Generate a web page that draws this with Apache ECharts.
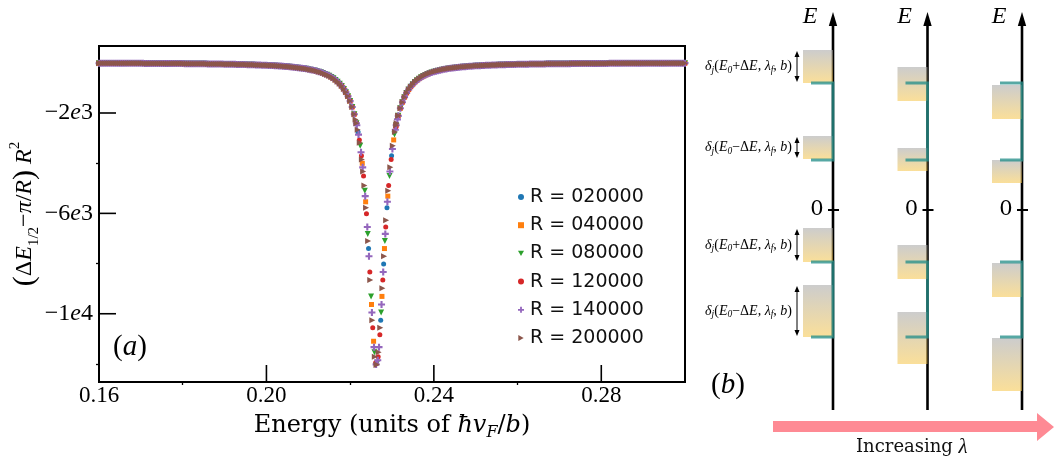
<!DOCTYPE html>
<html><head><meta charset="utf-8">
<script src="https://cdn.jsdelivr.net/npm/echarts@6/dist/echarts.min.js"></script>
<style>html,body{margin:0;padding:0;background:#fff}#c{width:1055px;height:465px}</style>
</head><body><div id="c"></div>
<script>
// ---------------- Panel (a) data ----------------
const seriesNames = ['R = 020000','R = 040000','R = 080000','R = 120000','R = 140000','R = 200000'];
const xTicks = [0.16, 0.20, 0.24, 0.28];
const xMinorTicks = [0.18, 0.22, 0.26];
const yTicks = [-2000, -6000, -10000];
const yTickLabels = ['−2e3', '−6e3', '−1e4'];
const yMinorTicks = [0, -4000, -8000, -12000];

// common wings of the collapsed curve (all R overlap here)
const wingEnergyLeft = [0.160,0.161,0.162,0.163,0.164,0.165,0.166,0.167,0.168,0.169,0.170,0.171,0.172,0.173,0.174,0.175,0.176,0.177,0.178,0.179,0.180,0.181,0.182,0.183,0.184,0.185,0.186,0.187,0.188,0.189,0.190,0.191,0.192,0.193,0.194,0.195,0.196,0.197,0.198,0.199,0.200,0.201,0.202,0.203,0.204,0.205,0.206,0.207,0.208,0.209,0.210,0.211,0.212,0.213,0.214,0.215,0.2155,0.2160,0.2165,0.2170,0.2175,0.2180,0.2185,0.2190,0.2195,0.2200,0.2205,0.2210,0.2215];
const wingValueLeft = [-16,-16,-17,-17,-18,-19,-19,-20,-20,-21,-22,-23,-24,-24,-25,-26,-27,-29,-30,-31,-32,-34,-35,-37,-39,-41,-43,-45,-47,-50,-53,-56,-59,-63,-67,-71,-76,-81,-87,-93,-100,-107,-116,-126,-138,-151,-166,-183,-204,-227,-256,-289,-330,-380,-442,-520,-567,-620,-681,-752,-834,-929,-1041,-1175,-1333,-1526,-1760,-2048,-2408];
const wingEnergyLeftB = [0.1605,0.1615,0.1625,0.1635,0.1645,0.1655,0.1665,0.1675,0.1685,0.1695,0.1705,0.1715,0.1725,0.1735,0.1745,0.1755,0.1765,0.1775,0.1785,0.1795,0.1805,0.1815,0.1825,0.1835,0.1845,0.1855,0.1865,0.1875,0.1885,0.1895,0.1905,0.1915,0.1925,0.1935,0.1945,0.1955,0.1965,0.1975,0.1985,0.1995,0.2005,0.2015,0.2025,0.2035,0.2045,0.2055,0.2065,0.2075,0.2085,0.2095,0.2105,0.2115,0.2125,0.2135,0.2145];
const wingValueLeftB = [-16,-17,-17,-18,-18,-19,-19,-20,-21,-22,-22,-23,-24,-25,-26,-27,-28,-29,-30,-32,-33,-35,-36,-38,-40,-42,-44,-46,-49,-51,-54,-57,-61,-65,-69,-73,-78,-84,-89,-96,-103,-112,-121,-132,-144,-158,-174,-193,-215,-241,-272,-309,-354,-409,-478];
const wingEnergyRight = [0.2310,0.2315,0.2320,0.2325,0.2330,0.2335,0.2340,0.2345,0.2350,0.2355,0.2360,0.237,0.238,0.239,0.240,0.241,0.242,0.243,0.244,0.245,0.246,0.247,0.248,0.249,0.250,0.251,0.252,0.253,0.254,0.255,0.256,0.257,0.258,0.259,0.260,0.261,0.262,0.263,0.264,0.265,0.266,0.267,0.268,0.269,0.270,0.271,0.272,0.273,0.274,0.275,0.276,0.277,0.278,0.279,0.280,0.281,0.282,0.283,0.284,0.285,0.286,0.287,0.288,0.289,0.290,0.291,0.292,0.293,0.294,0.295,0.296,0.297,0.298,0.299,0.300];
const wingValueRight = [-2490,-2114,-1813,-1569,-1369,-1204,-1066,-950,-851,-767,-694,-577,-486,-415,-358,-313,-275,-244,-217,-195,-176,-160,-145,-133,-122,-114,-105,-97,-90,-84,-79,-74,-69,-65,-61,-58,-54,-52,-49,-46,-44,-42,-40,-38,-36,-35,-33,-32,-31,-29,-28,-27,-26,-25,-24,-23,-22,-22,-21,-20,-20,-19,-18,-18,-17,-17,-16,-16,-15,-15,-14,-14,-14,-13,-13];
const wingEnergyRightB = [0.2365,0.2375,0.2385,0.2395,0.2405,0.2415,0.2425,0.2435,0.2445,0.2455,0.2465,0.2475,0.2485,0.2495,0.2505,0.2515,0.2525,0.2535,0.2545,0.2555,0.2565,0.2575,0.2585,0.2595,0.2605,0.2615,0.2625,0.2635,0.2645,0.2655,0.2665,0.2675,0.2685,0.2695,0.2705,0.2715,0.2725,0.2735,0.2745,0.2755,0.2765,0.2775,0.2785,0.2795,0.2805,0.2815,0.2825,0.2835,0.2845,0.2855,0.2865,0.2875,0.2885,0.2895,0.2905,0.2915,0.2925,0.2935,0.2945,0.2955,0.2965,0.2975,0.2985,0.2995];
const wingValueRightB = [-632,-529,-449,-385,-334,-293,-259,-230,-206,-185,-168,-152,-139,-128,-117,-109,-101,-94,-87,-81,-76,-71,-67,-63,-59,-56,-53,-50,-48,-45,-43,-41,-39,-37,-36,-34,-33,-31,-30,-29,-28,-27,-25,-25,-24,-23,-22,-21,-21,-20,-19,-19,-18,-17,-17,-16,-16,-15,-15,-15,-14,-14,-13,-13];

// points inside the dip, per radius  [energy, value]
const dipR020000 = [[0.2219,-2761],[0.2244,-7402],[0.2273,-10259],[0.2280,-8017],[0.2288,-5775],[0.2299,-3705]];
const dipR040000 = [[0.2229,-4005],[0.2237,-5539],[0.2251,-9632],[0.2256,-11096],[0.2276,-9309],[0.2282,-7402],[0.2290,-5314],[0.2304,-3073]];
const dipR080000 = [[0.2224,-3307],[0.2235,-5099],[0.2242,-6819],[0.2250,-9309],[0.2258,-11539],[0.2265,-11957],[0.2274,-9950],[0.2283,-7105],[0.2294,-4512],[0.2306,-2860]];
const dipR120000 = [[0.2222,-3073],[0.2227,-3705],[0.2232,-4512],[0.2239,-6020],[0.2247,-8335],[0.2254,-10556],[0.2261,-11957],[0.2267,-11715],[0.2271,-10836],[0.2278,-8657],[0.2285,-6542],[0.2292,-4894],[0.2298,-3851],[0.2309,-2576]];
const dipR140000 = [[0.2216,-2490],[0.2220,-2860],[0.2226,-3566],[0.2230,-4165],[0.2236,-5314],[0.2241,-6542],[0.2245,-7706],[0.2252,-9950],[0.2257,-11332],[0.2262,-12019],[0.2266,-11855],[0.2269,-11332],[0.2275,-9632],[0.2279,-8335],[0.2284,-6819],[0.2289,-5539],[0.2295,-4334],[0.2301,-3433],[0.2308,-2666],[0.2313,-2255]];
const dipR200000 = [[0.2213,-2255],[0.2218,-2666],[0.2223,-3187],[0.2228,-3851],[0.2231,-4334],[0.2234,-4894],[0.2238,-5775],[0.2243,-7105],[0.2248,-8657],[0.2253,-10259],[0.2259,-11715],[0.2263,-12040],[0.2264,-12019],[0.2268,-11539],[0.2272,-10556],[0.2277,-8983],[0.2281,-7706],[0.2286,-6276],[0.2291,-5099],[0.2296,-4165],[0.2302,-3307],[0.2307,-2761],[0.2311,-2408],[0.2315,-2114]];

// ---------------- Panel (b) data (schematic energy units) ----------------
const columns = [1, 2, 3];                   // increasing lambda
const levels = [127, 50, -52, -127];          // E0+dE, E0-dE for two resonances
const boxBottom = [[127, 51, -52, -127], [109, 39, -69, -154], [91, 27, -87, -181]];
const boxTop    = [[160, 74, -18, -75],  [143, 62, -35, -102], [125, 50, -53, -128]];
const deltaSigns = ['+', '−', '+', '−'];

// ---------------- build ----------------
const X_MIN = 0.16, X_MAX = 0.30, Y_MIN = -12720, Y_MAX = 670;
const colors = ['#1f77b4','#ff7f0e','#2ca02c','#d62728','#9467bd','#8c564b'];
const symbols = ['circle','rect','path://M0,0L10,0L5,9Z','circle',
  'path://M3.5,0H6.5V3.5H10V6.5H6.5V10H3.5V6.5H0V3.5H3.5Z','path://M0,0L9,5L0,10Z'];
const sizes = [5, 5, 6, 5, 7, 6];
const dips = [dipR020000, dipR040000, dipR080000, dipR120000, dipR140000, dipR200000];
const pairs = (es, vs) => es.map((e, i) => [e, vs[i]]);
const wing = pairs(wingEnergyLeft, wingValueLeft).concat(pairs(wingEnergyLeftB, wingValueLeftB),
  pairs(wingEnergyRight, wingValueRight), pairs(wingEnergyRightB, wingValueRightB));

const serif = 'Liberation Serif';
const scatterSeries = seriesNames.map((n, i) => ({
  type: 'scatter', name: n, xAxisIndex: 0, yAxisIndex: 0,
  data: wing.concat(dips[i]), symbol: symbols[i], symbolSize: sizes[i],
  itemStyle: { color: colors[i], opacity: 1 }, clip: true, z: 2 + i,
  emphasis: { disabled: true }, animation: false
}));

// inward major ticks of panel (a)
const xTickSeries = {
  type: 'custom', xAxisIndex: 0, yAxisIndex: 0, clip: false, silent: true, z: 30,
  data: xTicks.map(v => [v, Y_MIN]),
  renderItem(params, api) {
    const p = api.coord([api.value(0), api.value(1)]);
    return { type: 'line', shape: { x1: p[0], y1: p[1], x2: p[0], y2: p[1] - 17 }, style: { stroke: '#000', lineWidth: 1.6 } };
  }
};
const yTickSeries = {
  type: 'custom', xAxisIndex: 0, yAxisIndex: 0, clip: false, silent: true, z: 30,
  data: yTicks.map(v => [X_MIN, v]),
  renderItem(params, api) {
    const p = api.coord([api.value(0), api.value(1)]);
    return { type: 'line', shape: { x1: p[0], y1: p[1], x2: p[0] + 17, y2: p[1] }, style: { stroke: '#000', lineWidth: 1.6 } };
  }
};

const teal = '#26908b';
const axesSeries = {
  type: 'custom', xAxisIndex: 2, yAxisIndex: 2, clip: false, silent: true, z: 1,
  data: columns.map(c => [c]),
  renderItem(params, api) {
    const cs = params.coordSys;
    const x = api.coord([api.value(0), 0])[0];
    const y0 = api.coord([api.value(0), 0])[1];
    const top = cs.y, bot = cs.y + cs.height;
    return { type: 'group', children: [
      { type: 'line', shape: { x1: x, y1: bot, x2: x, y2: top + 10 }, style: { stroke: '#000', lineWidth: 2.6 } },
      { type: 'polygon', shape: { points: [[x - 4.2, top + 14], [x + 4.2, top + 14], [x, top]] }, style: { fill: '#000' } },
      { type: 'line', shape: { x1: x - 5, y1: y0, x2: x + 6, y2: y0 }, style: { stroke: '#000', lineWidth: 2 } },
      { type: 'text', x: x - 23, y: top + 5, style: { text: 'E', font: 'italic 24px "Liberation Serif"', fill: '#000', align: 'center', verticalAlign: 'middle' } },
      { type: 'text', x: x - 16, y: y0, style: { text: '0', font: '21px "DejaVu Serif"', fill: '#000', align: 'center', verticalAlign: 'middle' } }
    ]};
  }
};

const tealData = [];
columns.forEach(c => { tealData.push([c, levels[0], levels[1]]); tealData.push([c, levels[2], levels[3]]); });
const tealSeries = {
  type: 'custom', xAxisIndex: 2, yAxisIndex: 2, clip: false, silent: true, z: 4,
  data: tealData,
  renderItem(params, api) {
    const p1 = api.coord([api.value(0), api.value(1)]);
    const p2 = api.coord([api.value(0), api.value(2)]);
    return { type: 'polyline', shape: { points: [[p1[0] - 22, p1[1]], [p1[0], p1[1]], [p2[0], p2[1]], [p2[0] - 22, p2[1]]] },
      style: { stroke: teal, lineWidth: 2.8, fill: null, opacity: 0.78 } };
  }
};

const boxData = [];
columns.forEach((c, ci) => boxBottom[ci].forEach((b, k) => boxData.push([c, b, boxTop[ci][k]])));
const boxSeries = {
  type: 'custom', xAxisIndex: 2, yAxisIndex: 2, clip: false, silent: true, z: 3,
  data: boxData,
  renderItem(params, api) {
    const pb = api.coord([api.value(0), api.value(1)]);
    const pt = api.coord([api.value(0), api.value(2)]);
    return { type: 'rect', shape: { x: pb[0] - 30, y: pt[1], width: 30, height: pb[1] - pt[1] },
      style: { fill: new echarts.graphic.LinearGradient(0, 0, 0, 1, [
        { offset: 0, color: 'rgba(168,168,168,0.58)' }, { offset: 1, color: 'rgba(247,200,80,0.58)' }]) } };
  }
};

const arrowData = boxBottom[0].map((b, k) => [columns[0], b, boxTop[0][k], k]);
const arrowSeries = {
  type: 'custom', xAxisIndex: 2, yAxisIndex: 2, clip: false, silent: true, z: 5,
  data: arrowData,
  renderItem(params, api) {
    const pb = api.coord([api.value(0), api.value(1)]);
    const pt = api.coord([api.value(0), api.value(2)]);
    const x = pb[0] - 36, yb = pb[1] - 1, yt = pt[1] + 1, ym = (yb + yt) / 2;
    const sign = deltaSigns[api.value(3)];
    return { type: 'group', children: [
      { type: 'line', shape: { x1: x, y1: yt + 3, x2: x, y2: yb - 3 }, style: { stroke: '#000', lineWidth: 1 } },
      { type: 'polygon', shape: { points: [[x - 2.5, yt + 6], [x + 2.5, yt + 6], [x, yt]] }, style: { fill: '#000' } },
      { type: 'polygon', shape: { points: [[x - 2.5, yb - 6], [x + 2.5, yb - 6], [x, yb]] }, style: { fill: '#000' } },
      { type: 'text', x: x - 5, y: ym, style: {
        text: '{i|δ}{s|j}{n|(}{i|E}{s|0}{n|' + sign + 'Δ}{i|E}{n|, }{i|λ}{s|f}{n|, }{i|b}{n|)}',
        align: 'right', verticalAlign: 'middle',
        rich: {
          i: { fontFamily: serif, fontStyle: 'italic', fontSize: 14, lineHeight: 17, verticalAlign: 'middle', fill: '#000' },
          n: { fontFamily: serif, fontSize: 14, lineHeight: 17, verticalAlign: 'middle', fill: '#000' },
          s: { fontFamily: serif, fontStyle: 'italic', fontSize: 9.5, lineHeight: 9.5, verticalAlign: 'bottom', fill: '#000' }
        } } }
    ]};
  }
};

const option = {
  animation: false,
  backgroundColor: '#fff',
  grid: [
    { left: 99, top: 46, width: 586, height: 336, show: true, borderColor: '#000', borderWidth: 2, backgroundColor: 'transparent', containLabel: false, outerBoundsMode: 'none' },
    { left: 785.75, top: 12, width: 264.6, height: 398, show: false, containLabel: false, outerBoundsMode: 'none' }
  ],
  xAxis: [
    { type: 'value', gridIndex: 0, position: 'bottom', min: X_MIN, max: X_MAX, splitLine: { show: false }, axisLine: { show: false, onZero: false },
      axisTick: { show: false },
      axisLabel: { show: true, customValues: xTicks, margin: 2, formatter: v => v.toFixed(2),
        fontFamily: serif, fontSize: 23, color: '#000' },
      name: '{n|Energy (units of }{i|ħv}{s|F}{n|/}{i|b}{n|)}', nameLocation: 'middle', nameGap: 29, nameMoveOverlap: false,
      nameTextStyle: { rich: {
        n: { fontFamily: 'DejaVu Serif', fontSize: 24, lineHeight: 30, verticalAlign: 'middle', color: '#000' },
        i: { fontFamily: 'DejaVu Serif', fontStyle: 'italic', fontSize: 24, lineHeight: 30, verticalAlign: 'middle', color: '#000' },
        s: { fontFamily: 'DejaVu Serif', fontStyle: 'italic', fontSize: 16, lineHeight: 15, verticalAlign: 'bottom', color: '#000' } } } },
    { type: 'value', gridIndex: 0, position: 'bottom', min: X_MIN, max: X_MAX, splitLine: { show: false }, axisLine: { show: false, onZero: false },
      axisTick: { show: true, inside: false, length: 3, customValues: xMinorTicks, lineStyle: { color: '#000', width: 1.3 } },
      axisLabel: { show: false } },
    { type: 'value', gridIndex: 1, min: 0.5, max: 3.3, show: false }
  ],
  yAxis: [
    { type: 'value', gridIndex: 0, position: 'left', min: Y_MIN, max: Y_MAX, splitLine: { show: false }, axisLine: { show: false, onZero: false },
      axisTick: { show: false },
      axisLabel: { show: true, customValues: yTicks, margin: 6,
        formatter: v => { const s = yTickLabels[yTicks.indexOf(v)] || ''; return '{n|' + s[0] + s[1] + '}{i|e}{n|' + s[3] + '}'; },
        rich: { n: { fontFamily: serif, fontSize: 24, color: '#000' }, i: { fontFamily: serif, fontStyle: 'italic', fontSize: 24, color: '#000' } } },
      name: '{p|(}{n|Δ}{i|E}{s|1/2}{n|−}{i|π}{n|/}{i|R}{p|)}{n| }{i|R}{u|2}', nameLocation: 'middle', nameGap: 57, nameRotate: 90, nameMoveOverlap: false,
      nameTextStyle: { rich: {
        p: { fontFamily: serif, fontSize: 30, lineHeight: 34, verticalAlign: 'middle', color: '#000' },
        n: { fontFamily: serif, fontSize: 24, lineHeight: 34, verticalAlign: 'middle', color: '#000' },
        i: { fontFamily: serif, fontStyle: 'italic', fontSize: 24, lineHeight: 34, verticalAlign: 'middle', color: '#000' },
        s: { fontFamily: serif, fontSize: 15, lineHeight: 17, verticalAlign: 'bottom', color: '#000' },
        u: { fontFamily: serif, fontSize: 15, lineHeight: 22, verticalAlign: 'top', color: '#000' } } } },
    { type: 'value', gridIndex: 0, position: 'left', min: Y_MIN, max: Y_MAX, splitLine: { show: false }, axisLine: { show: false, onZero: false },
      axisTick: { show: true, inside: false, length: 3, customValues: yMinorTicks, lineStyle: { color: '#000', width: 1.3 } },
      axisLabel: { show: false } },
    { type: 'value', gridIndex: 1, min: -200, max: 198, show: false }
  ],
  legend: {
    data: seriesNames, orient: 'vertical', left: 513, top: 182, itemWidth: 6, itemHeight: 6, itemGap: 8.2,
    textStyle: { fontFamily: 'DejaVu Sans', fontSize: 19, lineHeight: 20, color: '#111', padding: [0, 0, 0, 1] },
    selectedMode: false
  },
  graphic: [
    { type: 'text', left: 113, top: 333, style: { text: '{p|(}{i|a}{p|)}', rich: {
      p: { fontFamily: serif, fontSize: 29, fill: '#000' }, i: { fontFamily: serif, fontStyle: 'italic', fontSize: 29, fill: '#000' } } } },
    { type: 'text', left: 711, top: 371, style: { text: '{p|(}{i|b}{p|)}', rich: {
      p: { fontFamily: serif, fontSize: 29, fill: '#000' }, i: { fontFamily: serif, fontStyle: 'italic', fontSize: 29, fill: '#000' } } } },
    { type: 'polygon', shape: { points: [[773, 421], [1037, 421], [1037, 413], [1054, 427], [1037, 441], [1037, 432], [773, 432]] },
      style: { fill: '#fe8a94' } },
    { type: 'text', left: 856, top: 437, style: { text: '{n|Increasing }{i|λ}', rich: {
      n: { fontFamily: 'DejaVu Serif', fontSize: 18, fill: '#111' }, i: { fontFamily: serif, fontStyle: 'italic', fontSize: 21, fill: '#111' } } } }
  ],
  series: scatterSeries.concat([xTickSeries, yTickSeries, axesSeries, tealSeries, boxSeries, arrowSeries])
};

const chart = echarts.init(document.getElementById('c'));
chart.setOption(option);
</script>
</body></html>
